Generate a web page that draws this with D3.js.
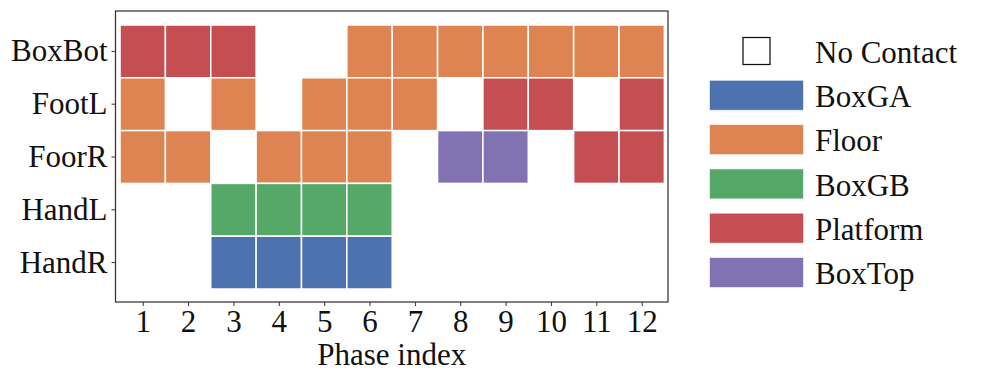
<!DOCTYPE html>
<html>
<head>
<meta charset="utf-8">
<script src="https://cdn.jsdelivr.net/npm/d3@7"></script>
<style>
  html, body { margin: 0; padding: 0; background: #fff; }
</style>
</head>
<body>
<svg id="chart" width="997" height="383"></svg>
<script>
// ---- data ----
const phases = [1, 2, 3, 4, 5, 6, 7, 8, 9, 10, 11, 12];
const links = ["BoxBot", "FootL", "FoorR", "HandL", "HandR"];
const contactTypes = ["No Contact", "BoxGA", "Floor", "BoxGB", "Platform", "BoxTop"];
const contactColors = ["none", "#4C72B0", "#DD8452", "#55A868", "#C44E52", "#8172B3"];
// contact per link per phase (null = no contact)
const boxBot = ["Platform", "Platform", "Platform", null, null, "Floor", "Floor", "Floor", "Floor", "Floor", "Floor", "Floor"];
const footL  = ["Floor", null, "Floor", null, "Floor", "Floor", "Floor", null, "Platform", "Platform", null, "Platform"];
const foorR  = ["Floor", "Floor", null, "Floor", "Floor", "Floor", null, "BoxTop", "BoxTop", null, "Platform", "Platform"];
const handL  = [null, null, "BoxGB", "BoxGB", "BoxGB", "BoxGB", null, null, null, null, null, null];
const handR  = [null, null, "BoxGA", "BoxGA", "BoxGA", "BoxGA", null, null, null, null, null, null];
const xLabel = "Phase index";

const FONT = '"Times New Roman", "Liberation Serif", Times, serif';
const FS = 31;

const rows = [boxBot, footL, foorR, handL, handR];
const cells = [];
rows.forEach((r, i) => r.forEach((c, j) => { if (c) cells.push({ link: links[i], phase: phases[j], contact: c }); }));

// ---- layout ----
const svg = d3.select("#chart");
const plot = { left: 115.5, right: 668, top: 11, bottom: 302 };

const x = d3.scaleLinear().domain([0.4, 12.58]).range([plot.left, plot.right]);
const y = d3.scaleBand().domain(links).range([plot.top + 14, plot.bottom - 13]).padding(0);
const color = d3.scaleOrdinal().domain(contactTypes).range(contactColors);

// cells
svg.append("g").selectAll("rect").data(cells).join("rect")
  .attr("x", d => x(d.phase - 0.5))
  .attr("y", d => y(d.link))
  .attr("width", d => x(d.phase + 0.5) - x(d.phase - 0.5))
  .attr("height", y.bandwidth())
  .attr("fill", d => color(d.contact))
  .attr("stroke", "#fff")
  .attr("stroke-width", 1.5);

// frame
svg.append("rect")
  .attr("x", plot.left).attr("y", plot.top)
  .attr("width", plot.right - plot.left).attr("height", plot.bottom - plot.top)
  .attr("fill", "none").attr("stroke", "#333").attr("stroke-width", 1.25);

// x axis
const xAxis = svg.append("g").attr("transform", `translate(0,${plot.bottom})`)
  .call(d3.axisBottom(x).tickValues(phases).tickFormat(d3.format("d")).tickSize(4).tickPadding(4));
xAxis.attr("font-family", FONT).attr("font-size", FS);
xAxis.select(".domain").remove();
xAxis.selectAll("line").attr("stroke", "#333").attr("stroke-width", 1);
xAxis.selectAll("text").attr("fill", "#111");

// y axis
const yAxis = svg.append("g").attr("transform", `translate(${plot.left},0)`)
  .call(d3.axisLeft(y).tickSize(4).tickPadding(4));
yAxis.attr("font-family", FONT).attr("font-size", FS);
yAxis.select(".domain").remove();
yAxis.selectAll("line").attr("stroke", "#333").attr("stroke-width", 1);
yAxis.selectAll("text").attr("fill", "#111");

// x label
svg.append("text")
  .attr("x", (plot.left + plot.right) / 2).attr("y", 365)
  .attr("text-anchor", "middle").attr("font-size", FS).attr("font-family", FONT).attr("fill", "#111")
  .text(xLabel);

// legend
const leg = svg.append("g").attr("font-family", FONT).attr("font-size", FS);
const legTop = 51, legStep = 44.3;
contactTypes.forEach((t, i) => {
  const cy = legTop + i * legStep;
  if (t === "No Contact") {
    leg.append("rect").attr("x", 743).attr("y", cy - 13.5).attr("width", 27).attr("height", 27)
      .attr("fill", "none").attr("stroke", "#111").attr("stroke-width", 1.25);
  } else {
    leg.append("rect").attr("x", 709.5).attr("y", cy - 15).attr("width", 94).attr("height", 30)
      .attr("fill", color(t)).attr("stroke", "#fff").attr("stroke-opacity", 0.6).attr("stroke-width", 1);
  }
  leg.append("text").attr("x", 815).attr("y", cy + 1).attr("dy", "0.35em").attr("fill", "#111").text(t);
});
</script>
</body>
</html>
